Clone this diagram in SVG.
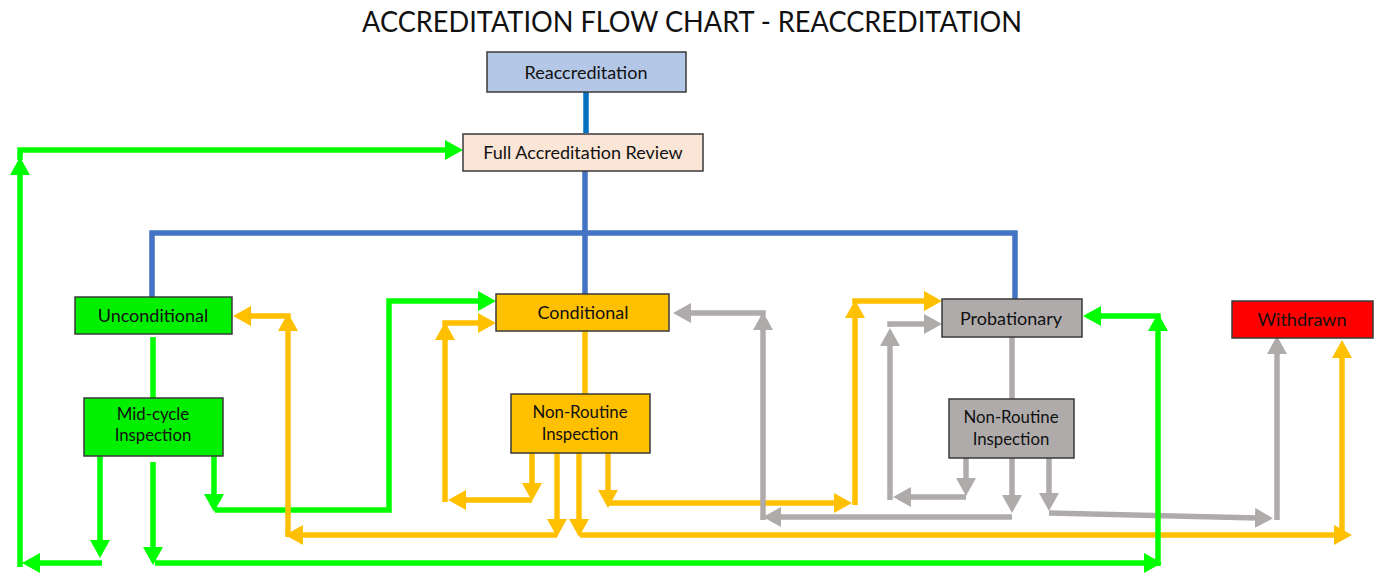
<svg xmlns="http://www.w3.org/2000/svg" width="1382" height="574" viewBox="0 0 1382 574">
<style>
.box{stroke:#3a3a3a;stroke-width:1.5}
.t{font-family:Lato,"Open Sans","Liberation Sans",sans-serif;font-size:18px;fill:#111;text-anchor:middle}
.t2{font-size:16.8px}
.c{fill:none;stroke-width:5.5;stroke-linejoin:miter}
.g{stroke:#00FF00}
.o{stroke:#FFC000}
.y{stroke:#AFABAB}
.b{stroke:#4472C4}
</style>
<defs>
<marker id="ag" markerUnits="userSpaceOnUse" markerWidth="18" markerHeight="20" refX="3" refY="10" orient="auto"><path d="M0,0 L18,10 L0,20 Z" fill="#00FF00"/></marker>
<marker id="ao" markerUnits="userSpaceOnUse" markerWidth="18" markerHeight="20" refX="3" refY="10" orient="auto"><path d="M0,0 L18,10 L0,20 Z" fill="#FFC000"/></marker>
<marker id="ay" markerUnits="userSpaceOnUse" markerWidth="18" markerHeight="20" refX="3" refY="10" orient="auto"><path d="M0,0 L18,10 L0,20 Z" fill="#AFABAB"/></marker>
</defs>
<rect width="1382" height="574" fill="#fff"/>
<text x="692" y="32" font-family="Lato,'Open Sans','Liberation Sans',sans-serif" font-size="28" fill="#111" text-anchor="middle" textLength="660" lengthAdjust="spacingAndGlyphs">ACCREDITATION FLOW CHART - REACCREDITATION</text>

<g id="connectors">
<path class="c" d="M586,92 V133" stroke="#0070C0"/>
<path class="c b" d="M585,171 V294"/>
<path class="c b" d="M152,297 V233 H1015 V299"/>
<path class="c g" d="M153,337 V398"/>
<path class="c o" d="M585,331 V394"/>
<path class="c y" d="M1012,337 V399"/>

<path class="c g" d="M100,456 V543" marker-end="url(#ag)"/>
<path class="c g" d="M102,563 H37" marker-end="url(#ag)"/>
<path class="c g" d="M20,567 V172" marker-end="url(#ag)"/>
<path class="c g" d="M20,160 V150 H448" marker-end="url(#ag)"/>
<path class="c g" d="M153,462 V550" marker-end="url(#ag)"/>
<path class="c g" d="M155,563 H1147" marker-end="url(#ag)"/>
<path class="c g" d="M214,456 V497" marker-end="url(#ag)"/>
<path class="c g" d="M215,510 H389 V301 H481" marker-end="url(#ag)"/>

<path class="c o" d="M532,453 V486" marker-end="url(#ao)"/>
<path class="c o" d="M532,500 H463" marker-end="url(#ao)"/>
<path class="c o" d="M445,502 V337" marker-end="url(#ao)"/>
<path class="c o" d="M445,326 V323 H481" marker-end="url(#ao)"/>
<path class="c o" d="M557,453 V522" marker-end="url(#ao)"/>
<path class="c o" d="M557,535 H300" marker-end="url(#ao)"/>
<path class="c o" d="M288,537 V328" marker-end="url(#ao)"/>
<path class="c o" d="M288,319 V316 H248" marker-end="url(#ao)"/>
<path class="c o" d="M579,453 V522" marker-end="url(#ao)"/>
<path class="c o" d="M580,535 H1337" marker-end="url(#ao)"/>
<path class="c o" d="M1342,538 V355" marker-end="url(#ao)"/>
<path class="c o" d="M608,453 V493" marker-end="url(#ao)"/>
<path class="c o" d="M608,503 H837" marker-end="url(#ao)"/>
<path class="c o" d="M855,505 V315" marker-end="url(#ao)"/>
<path class="c o" d="M855,304 V301 H927" marker-end="url(#ao)"/>

<path class="c y" d="M966,458 V481" marker-end="url(#ay)"/>
<path class="c y" d="M966,497 H908" marker-end="url(#ay)"/>
<path class="c y" d="M890,500 V343" marker-end="url(#ay)"/>
<path class="c y" d="M890,327 V324 H927" marker-end="url(#ay)"/>
<path class="c y" d="M1012,458 V498" marker-end="url(#ay)"/>
<path class="c y" d="M1012,517 H778" marker-end="url(#ay)"/>
<path class="c y" d="M763,520 V327" marker-end="url(#ay)"/>
<path class="c y" d="M763,316 V313 H688" marker-end="url(#ay)"/>
<path class="c y" d="M1049,458 V496" marker-end="url(#ay)"/>
<path class="c y" d="M1049,513 L1258,518" marker-end="url(#ay)"/>
<path class="c y" d="M1277,520 V351" marker-end="url(#ay)"/>

<path class="c g" d="M1158,566 V328" marker-end="url(#ag)"/>
<path class="c g" d="M1158,319 V316 H1098" marker-end="url(#ag)"/>
</g>

<g id="reaccreditation"><rect class="box" x="487" y="52" width="199" height="40" fill="#B4C7E7"/><text class="t" x="586" y="79" font-size="21">Reaccreditation</text></g>
<g id="full-review"><rect class="box" x="463" y="134" width="240" height="37" fill="#FBE5D6"/><text class="t" x="583" y="159">Full Accreditation Review</text></g>
<g id="unconditional"><rect class="box" x="75" y="297" width="157" height="37" fill="#00F000"/><text class="t" x="153" y="322">Unconditional</text></g>
<g id="midcycle"><rect class="box" x="84" y="398" width="139" height="58" fill="#00F000"/><text class="t t2" x="153" y="420">Mid-cycle</text><text class="t t2" x="153" y="441">Inspection</text></g>
<g id="conditional"><rect class="box" x="496" y="294" width="173" height="37" fill="#FFC000"/><text class="t" x="583" y="319">Conditional</text></g>
<g id="nri-conditional"><rect class="box" x="511" y="394" width="139" height="59" fill="#FFC000"/><text class="t t2" x="580" y="418">Non-Routine</text><text class="t t2" x="580" y="440">Inspection</text></g>
<g id="probationary"><rect class="box" x="942" y="299" width="140" height="38" fill="#AFABAB"/><text class="t" x="1011" y="325">Probationary</text></g>
<g id="nri-probationary"><rect class="box" x="949" y="399" width="125" height="59" fill="#AFABAB"/><text class="t t2" x="1011" y="423">Non-Routine</text><text class="t t2" x="1011" y="445">Inspection</text></g>
<g id="withdrawn"><rect class="box" x="1232" y="301" width="141" height="37" fill="#FF0000"/><text class="t" x="1302" y="326">Withdrawn</text></g>
</svg>
